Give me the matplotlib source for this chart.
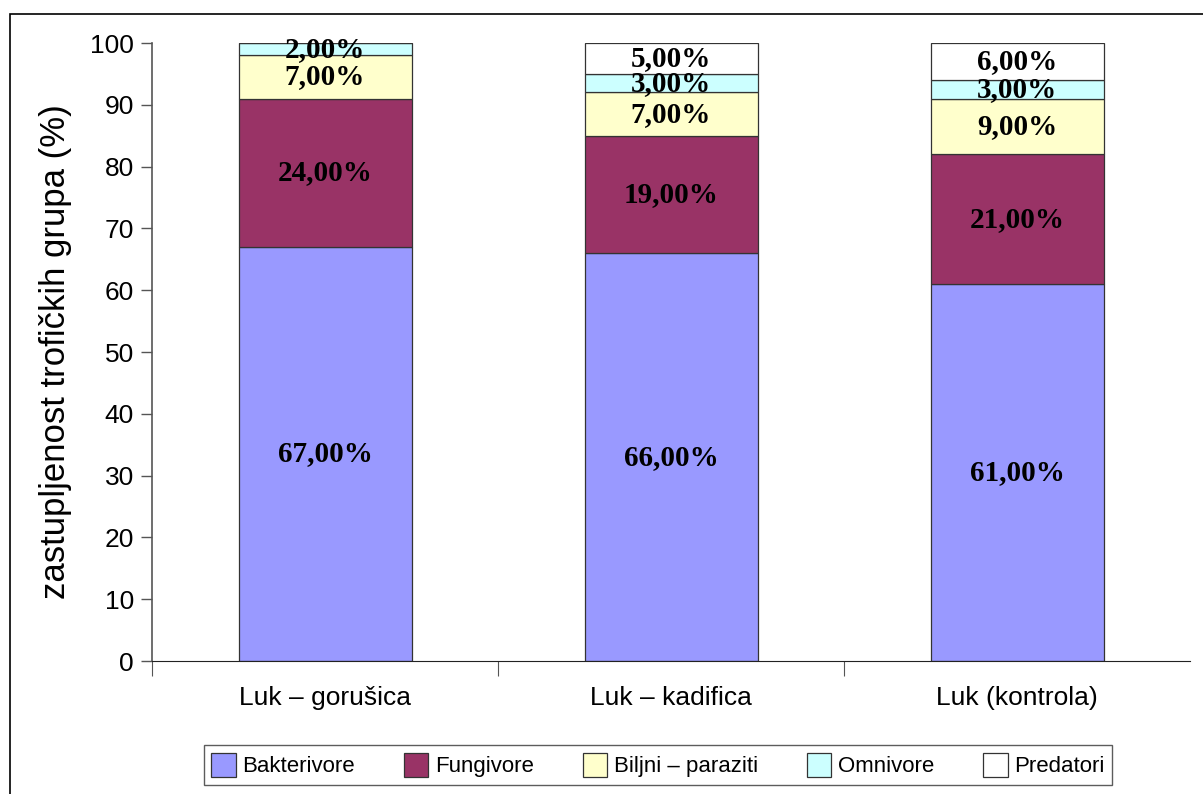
import numpy as np
import matplotlib
matplotlib.use("Agg")
import matplotlib.pyplot as plt
from matplotlib.patches import Rectangle

plt.rcParams['font.family'] = ['Liberation Sans', 'DejaVu Sans']

# data
categories = ["Luk – gorušica", "Luk – kadifica", "Luk (kontrola)"]
series = ["Bakterivore", "Fungivore", "Biljni – paraziti", "Omnivore", "Predatori"]
bakterivore = [67, 66, 61]
fungivore = [24, 19, 21]
biljni = [7, 7, 9]
omnivore = [2, 3, 3]
predatori = [0, 5, 6]
colors = ["#9999FF", "#993366", "#FFFFCC", "#CCFFFF", "#FFFFFF"]

values = [bakterivore, fungivore, biljni, omnivore, predatori]

fig = plt.figure(figsize=(12.03, 7.94), dpi=100)
ax = fig.add_axes([0.1264, 0.1675, 0.8628, 0.7783])

# frame around chart area
fig.patches.append(Rectangle((10 / 1203, -0.1), 1.2, 1 - 14 / 794 + 0.1,
                             transform=fig.transFigure, fill=False,
                             edgecolor='black', linewidth=1.2))

x = np.arange(len(categories))
bottom = np.zeros(len(categories))
for name, vals, col in zip(series, values, colors):
    vals = np.array(vals, dtype=float)
    ax.bar(x, vals, bottom=bottom, width=0.5, color=col,
           edgecolor='#333333', linewidth=0.9, label=name)
    for xi, v, b in zip(x, vals, bottom):
        if v > 0:
            ax.text(xi, b + v / 2, f"{v:.2f}%".replace('.', ','),
                    ha='center', va='center', fontsize=21, fontweight='bold',
                    family='Liberation Serif')
    bottom += vals

ax.set_xlim(-0.5, 2.5)
ax.set_ylim(0, 100)
ax.set_yticks(np.arange(0, 101, 10))
ax.tick_params(axis='y', labelsize=19, length=8, width=1, color='#555555', pad=5)
ax.set_xticks(x)
ax.set_xticklabels(categories, fontsize=19)
ax.tick_params(axis='x', length=0, pad=18)
ax.set_xticks([-0.5, 0.5, 1.5], minor=True)
ax.tick_params(axis='x', which='minor', length=11, width=0.8, color='#555555')
ax.spines['top'].set_visible(False)
ax.spines['right'].set_visible(False)
ax.spines['left'].set_color('#555555')
ax.spines['left'].set_linewidth(1.2)
ax.spines['bottom'].set_color('#222222')
ax.set_ylabel("zastupljenost trofičkih grupa (%)", fontsize=25, labelpad=13)

leg = ax.legend(loc='center', bbox_to_anchor=(658 / 1203, 1 - 765 / 794),
                bbox_transform=fig.transFigure, ncol=5, fontsize=16,
                frameon=True, fancybox=False, edgecolor='#333333',
                handlelength=1.1, handleheight=1.3, columnspacing=2.2,
                handletextpad=0.3, borderpad=0.35, borderaxespad=0)
leg.get_frame().set_linewidth(1)

fig.savefig("out.png", dpi=100)
